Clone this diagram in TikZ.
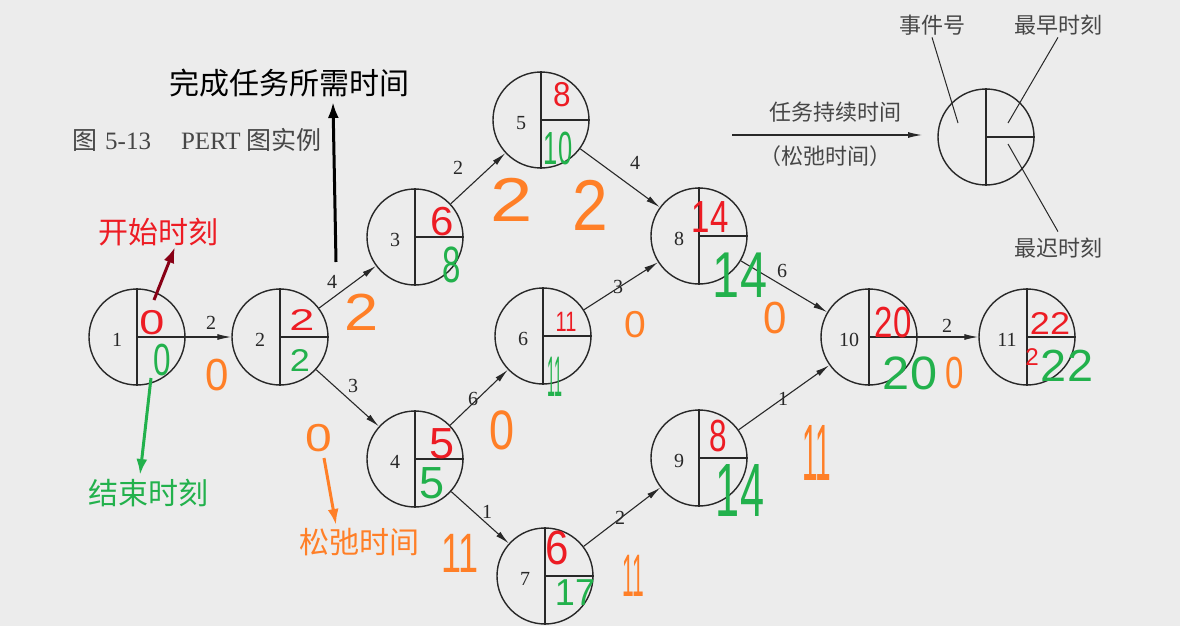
\documentclass[tikz,border=0pt]{standalone}
\usepackage{fontspec}
\usepackage{graphicx}
\setmainfont{Liberation Serif}
\newfontfamily\cjk{Noto Sans CJK SC}
\newfontfamily\hwfont{Liberation Sans}
\usetikzlibrary{arrows.meta,calc}
\definecolor{bgc}{RGB}{236,236,236}
\definecolor{ink}{RGB}{40,40,40}
\definecolor{hred}{RGB}{237,28,36}
\definecolor{hgreen}{RGB}{34,177,76}
\definecolor{horange}{RGB}{255,127,39}
\definecolor{dred}{RGB}{136,0,21}
\definecolor{capgray}{RGB}{70,70,70}
\tikzset{
 ev/.style={circle, draw=ink, line width=1.4pt, minimum size=96pt, inner sep=0pt},
 evnum/.style={font=\fontsize{20}{20}\selectfont, text=ink, inner sep=0pt},
 elab/.style={font=\fontsize{20}{20}\selectfont, text=ink, inner sep=0pt},
 task/.style={draw=ink, line width=1.1pt, -{Latex[length=14pt,width=6pt]}},
 hw/.style={font=\hwfont\fontsize{#1}{#1}\selectfont, inner sep=0pt},
 hr/.style={hw=#1, text=hred},
 hg/.style={hw=#1, text=hgreen},
 ho/.style={hw=#1, text=horange},
 note/.style={font=\cjk\fontsize{30}{30}\selectfont, inner sep=0pt},
 pointer/.style={line width=3pt, -{Latex[length=16pt,width=11pt]}},
 legtext/.style={font=\cjk\fontsize{22}{22}\selectfont, text=capgray, inner sep=0pt},
 leader/.style={draw=ink, line width=1pt},
}
\newcommand\quads[1]{\draw[ink, line width=1.4pt] (#1.north) -- (#1.south) (#1.center) -- (#1.east);}
\newcommand\hand[3]{\scalebox{#1}[#2]{#3}}
\begin{document}
\begin{tikzpicture}[x=1pt,y=-1pt]
\fill[bgc] (0,0) rectangle (1180,626);
\useasboundingbox (0,0) rectangle (1180,626);

% event circles
\node[ev] (n1) at (137,337) {};
\node[ev] (n2) at (280,337) {};
\node[ev] (n3) at (415,237) {};
\node[ev] (n4) at (415,459) {};
\node[ev] (n5) at (541,120) {};
\node[ev] (n6) at (543,336) {};
\node[ev] (n7) at (545,576) {};
\node[ev] (n8) at (699,236) {};
\node[ev] (n9) at (699,458) {};
\node[ev] (n10) at (869,337) {};
\node[ev] (n11) at (1027,337) {};
\node[ev] (leg) at (986,137) {};
\foreach \n in {n1,n2,n3,n4,n5,n6,n7,n8,n9,n10,n11,leg} {\quads{\n}}

% event numbers
\foreach \n/\t in {n1/1,n2/2,n3/3,n4/4,n5/5,n6/6,n7/7,n8/8,n9/9,n10/10,n11/11}
  {\node[evnum] (\n num) at ($(\n)+(-20,3)$) {\t};}

% tasks
\draw[task] (n1) -- (n2);
\draw[task] (n2) -- (n3);
\draw[task] (n2) -- (n4);
\draw[task] (n3) -- (n5);
\draw[task] (n5) -- (n8);
\draw[task] (n4) -- (n6);
\draw[task] (n6) -- (n8);
\draw[task] (n4) -- (n7);
\draw[task] (n7) -- (n9);
\draw[task] (n8) -- (n10);
\draw[task] (n9) -- (n10);
\draw[task] (n10) -- (n11);

% task durations
\node[elab] (d12) at (211,323) {2};
\node[elab] (d23) at (332,282) {4};
\node[elab] (d24) at (353,386) {3};
\node[elab] (d35) at (458,168) {2};
\node[elab] (d58) at (635,163) {4};
\node[elab] (d46) at (473,399) {6};
\node[elab] (d68) at (618,287) {3};
\node[elab] (d47) at (487,512) {1};
\node[elab] (d79) at (620,518) {2};
\node[elab] (d810) at (782,271) {6};
\node[elab] (d910) at (783,399) {1};
\node[elab] (d1011) at (947,326) {2};

% caption
\node[font=\fontsize{25}{25}\selectfont, text=capgray, inner sep=0pt, anchor=west] (cap) at (72,140)
  {{\cjk 图}\hspace{8pt}5-13\hspace{30pt}PERT\hspace{6pt}{\cjk 图实例}};

% legend
\coordinate (la) at (732,135);
\coordinate (lb) at (922,135);
\draw[task] (la) -- (lb);
\node[legtext] (lt1) at (835,112) {任务持续时间};
\node[legtext] (lt2) at (825,156) {（松弛时间）};
\node[legtext] (lk1) at (932,25) {事件号};
\node[legtext] (lk2) at (1058,25) {最早时刻};
\node[legtext] (lk3) at (1058,248) {最迟时刻};
\coordinate (q1) at (958,123);
\coordinate (q2) at (1008,123);
\coordinate (q3) at (1008,144);
\draw[leader] (lk1.south) ++(0,2) -- (q1);
\draw[leader] (lk2.south) ++(0,2) -- (q2);
\draw[leader] (q3) -- ($(lk3.north)+(0,-6)$);

% annotations
\node[note, text=hred] (nstart) at (158,232) {开始时刻};
\node[note, text=hgreen] (nend) at (148,493) {结束时刻};
\node[note, text=horange] (nslack) at (359,542) {松弛时间};
\node[note, text=black] (ndur) at (289,83) {完成任务所需时间};
\coordinate (a1) at (154,300); \coordinate (a1t) at (175,247);
\coordinate (a2) at (151,378); \coordinate (a2t) at (140,475);
\coordinate (a3) at (324,458); \coordinate (a3t) at (336,525);
\coordinate (a4) at (336,262); \coordinate (a4t) at (333,102);
\draw[pointer, dred] (a1) -- (a1t);
\draw[pointer, hgreen] (a2) -- (a2t);
\draw[pointer, horange] (a3) -- (a3t);
\draw[pointer, black] (a4) -- (a4t);

% earliest times (red)
\node[hr=30] (r1) at (152,323) {\hand{1.5}{1.15}{0}};
\node[hr=30] (r2) at (302,320) {\hand{1.5}{1}{2}};
\node[hr=30] (r3) at (442,222) {\hand{1.4}{1.35}{6}};
\node[hr=30] (r4) at (442,444) {\hand{1.5}{1.45}{5}};
\node[hr=30] (r5) at (562,95) {\hand{1.05}{1.15}{8}};
\node[hr=20] (r6) at (566,322) {\hand{1}{1.4}{11}};
\node[hr=30] (r7) at (557,548) {\hand{1.4}{1.6}{6}};
\node[hr=30] (r8) at (710,217) {\hand{1.1}{1.5}{14}};
\node[hr=30] (r9) at (718,436) {\hand{1.05}{1.5}{8}};
\node[hr=30] (r10) at (893,323) {\hand{1.1}{1.45}{20}};
\node[hr=30] (r11) at (1050,323) {\hand{1.2}{1.05}{22}};
\node[hr=22] (r11b) at (1032,357) {\hand{1.1}{1.1}{2}};

% latest times (green)
\node[hg=30] (g1) at (162,360) {\hand{1.05}{1.5}{0}};
\node[hg=30] (g2) at (300,360) {\hand{1.2}{1.05}{2}};
\node[hg=30] (g3) at (452,265) {\hand{1.1}{1.7}{8}};
\node[hg=30] (g4) at (432,483) {\hand{1.5}{1.5}{5}};
\node[hg=30] (g5) at (558,148) {\hand{0.85}{1.55}{10}};
\node[hg=26] (g6) at (555,377) {\hand{0.55}{2.2}{11}};
\node[hg=30] (g7) at (575,593) {\hand{1.2}{1.25}{17}};
\node[hg=36] (g8) at (740,275) {\hand{1.35}{1.8}{14}};
\node[hg=36] (g9) at (740,490) {\hand{1.2}{2.1}{14}};
\node[hg=36] (g10) at (910,373) {\hand{1.35}{1.3}{20}};
\node[hg=36] (g11) at (1067,366) {\hand{1.3}{1.25}{22}};

% slack times (orange)
\node[ho=30] (o1) at (217,375) {\hand{1.4}{1.5}{0}};
\node[ho=36] (o2) at (362,312) {\hand{1.7}{1.45}{2}};
\node[ho=30] (o3) at (319,438) {\hand{1.6}{1.3}{0}};
\node[ho=40] (o4) at (512,200) {\hand{1.9}{1.55}{2}};
\node[ho=40] (o5) at (590,205) {\hand{1.6}{1.8}{2}};
\node[ho=30] (o6) at (635,325) {\hand{1.3}{1.25}{0}};
\node[ho=30] (o7) at (775,318) {\hand{1.4}{1.5}{0}};
\node[ho=30] (o8) at (502,430) {\hand{1.5}{1.85}{0}};
\node[ho=30] (o9) at (460,553) {\hand{1.2}{1.85}{11}};
\node[ho=30] (o10) at (633,576) {\hand{0.7}{2}{11}};
\node[ho=40] (o11) at (817,453) {\hand{0.7}{2}{11}};
\node[ho=30] (o12) at (955,373) {\hand{1.1}{1.5}{0}};
\end{tikzpicture}
\end{document}
